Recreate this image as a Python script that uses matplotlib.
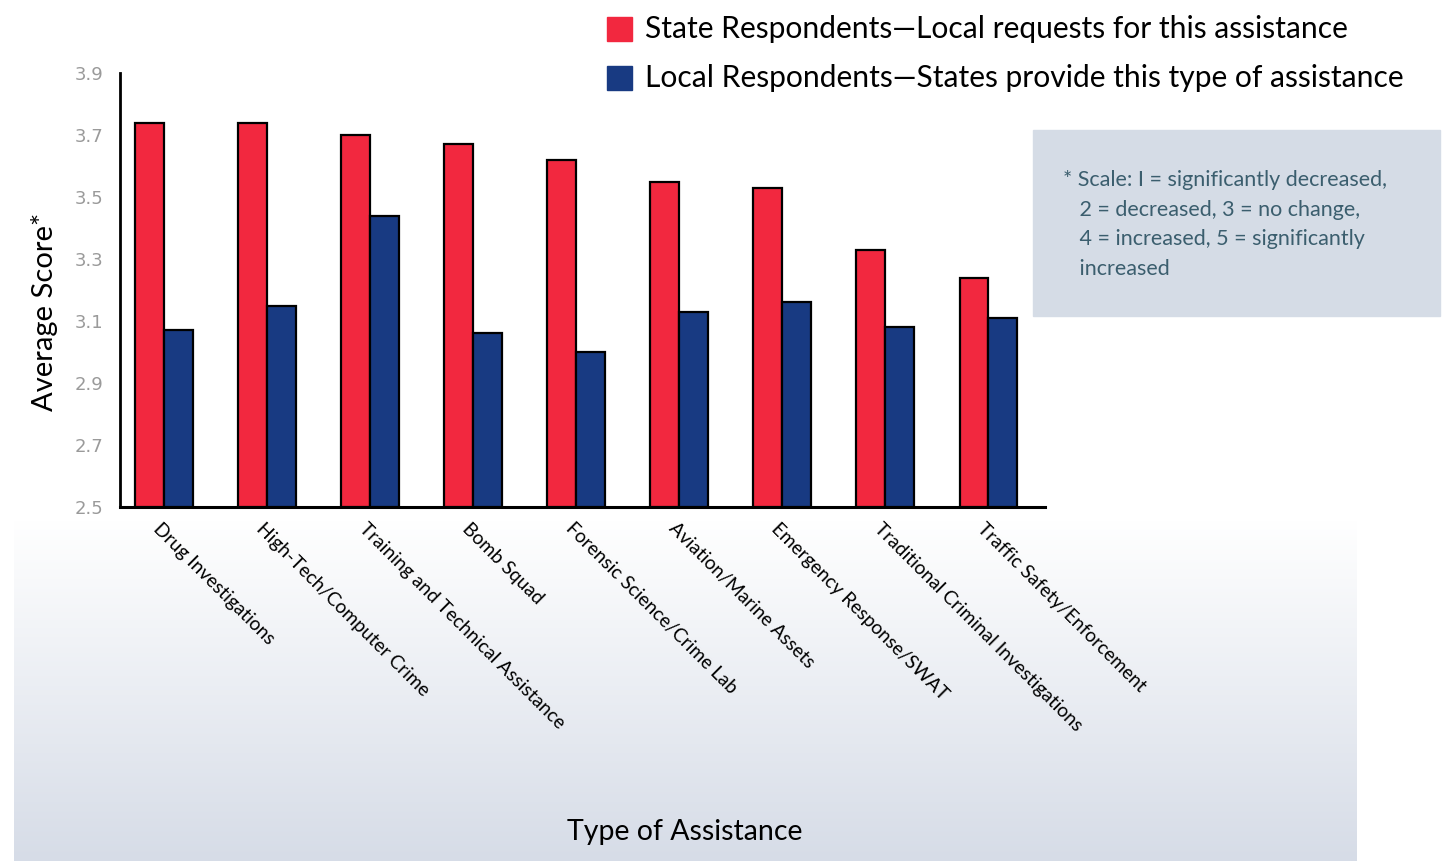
import numpy as np
import matplotlib
matplotlib.use("Agg")
import matplotlib.pyplot as plt
from matplotlib.patches import Rectangle

plt.rcParams['font.family'] = ['Lato', 'DejaVu Sans']

categories = [
    "Drug Investigations",
    "High-Tech/Computer Crime",
    "Training and Technical Assistance",
    "Bomb Squad",
    "Forensic Science/Crime Lab",
    "Aviation/Marine Assets",
    "Emergency Response/SWAT",
    "Traditional Criminal Investigations",
    "Traffic Safety/Enforcement",
]
state_scores = [3.74, 3.74, 3.70, 3.67, 3.62, 3.55, 3.53, 3.33, 3.24]
local_scores = [3.07, 3.15, 3.44, 3.06, 3.00, 3.13, 3.16, 3.08, 3.11]
y_ticks = [2.5, 2.7, 2.9, 3.1, 3.3, 3.5, 3.7, 3.9]
series_labels = [
    "State Respondents\u2014Local requests for this assistance",
    "Local Respondents\u2014States provide this type of assistance",
]
note_text = ("* Scale: I = significantly decreased,\n"
             "   2 = decreased, 3 = no change,\n"
             "   4 = increased, 5 = significantly\n"
             "   increased")

RED = "#f2283f"
BLUE = "#183a82"
W, H = 1449, 861

fig = plt.figure(figsize=(W / 100, H / 100), dpi=100)

# soft gradient panel behind the lower half
bg = fig.add_axes([14 / W, 0, (1357 - 14) / W, (861 - 520) / H], zorder=0)
grad = np.linspace(0, 1, 256)[:, None]
c_top = np.array([1.0, 1.0, 1.0])
c_bot = np.array([0xd6, 0xdc, 0xe7]) / 255
img = c_top[None, None, :] * (1 - grad[:, :, None]) + c_bot[None, None, :] * grad[:, :, None]
bg.imshow(img, aspect='auto', extent=[0, 1, 0, 1])
bg.set_axis_off()

ax = fig.add_axes([120 / W, 1 - 507 / H, (1045 - 120) / W, (507 - 73) / H], zorder=2)
ax.patch.set_alpha(0)

x = np.arange(len(categories))
bw = 0.28
for vals, col, off in [(state_scores, RED, -bw / 2), (local_scores, BLUE, bw / 2)]:
    ax.bar(x + off, np.array(vals) - 2.5, bw, bottom=2.5, color=col,
           edgecolor='black', linewidth=1.6, zorder=3)

ax.set_ylim(2.5, 3.9)
ax.set_xlim(-0.43, 8.55)
ax.set_yticks(y_ticks)
ax.set_yticklabels([f"{t:.1f}" for t in y_ticks], color='#9a9a9a', fontsize=13,
                   family=['Liberation Sans Narrow', 'DejaVu Sans'])
ax.tick_params(axis='y', length=0, pad=12)
ax.set_xticks(x - 0.02)
ax.set_xticklabels(categories, rotation=-45, ha='left', va='top',
                   rotation_mode='anchor', fontsize=13.8)
ax.tick_params(axis='x', length=0, pad=9)
for s in ['top', 'right']:
    ax.spines[s].set_visible(False)
ax.spines['left'].set_linewidth(2)
ax.spines['bottom'].set_linewidth(2.2)

fig.text(45 / W, 1 - 312 / H, "Average Score*", rotation=90, ha='center', va='center',
         fontsize=21)
fig.text(685 / W, 1 - 832 / H, "Type of Assistance", ha='center', va='center',
         fontsize=20.5)

# legend
for i, (lab, col) in enumerate(zip(series_labels, [RED, BLUE])):
    yc = 29 + i * 49
    fig.patches.append(Rectangle((607 / W, 1 - (yc + 12) / H), 25 / W, 24 / H,
                                 transform=fig.transFigure, color=col, zorder=5))
    fig.text(645 / W, 1 - yc / H, lab, ha='left', va='center', fontsize=21.6)

# scale note box
fig.patches.append(Rectangle((1033 / W, 1 - 316 / H), (1440 - 1033) / W, (316 - 130) / H,
                             transform=fig.transFigure, color='#d5dce6', zorder=1))
fig.text(1063 / W, 1 - 170 / H, note_text, ha='left', va='top', fontsize=15.5,
         color='#3b5e6e', linespacing=1.6)

fig.savefig("out.png", dpi=100)
